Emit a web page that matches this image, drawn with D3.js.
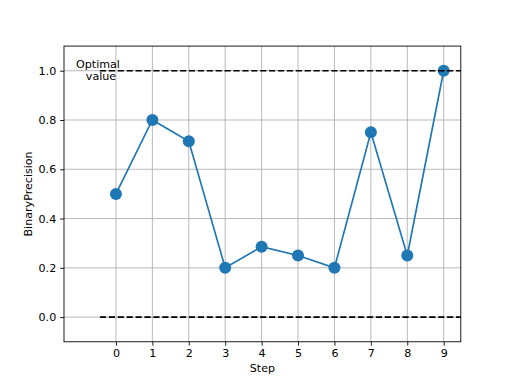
<!DOCTYPE html>
<html><head><meta charset="utf-8">
<script src="https://cdn.jsdelivr.net/npm/d3@7"></script>
<style>body{margin:0;background:#fff}text{font-family:"DejaVu Sans",sans-serif}</style>
</head><body>
<svg id="c" width="512" height="384"></svg>
<script>
const steps = [0,1,2,3,4,5,6,7,8,9];
const precision = [0.5, 0.8, 0.714, 0.2, 0.2857, 0.25, 0.2, 0.75, 0.25, 1.0];
const xTicks = [0,1,2,3,4,5,6,7,8,9];
const yTicks = [0.0,0.2,0.4,0.6,0.8,1.0];
const refLines = [0.0, 1.0];
const refStart = -0.44;

const svg = d3.select("#c");
const L=64, R=460.8, T=46.08, B=341.76;
const x = d3.scaleLinear().domain([-1.427, 9.47]).range([L, R]);
const y = d3.scaleLinear().domain([-0.1, 1.1]).range([B, T]);

// grid
svg.append("g").selectAll("line").data(xTicks).join("line")
  .attr("x1", d=>x(d)).attr("x2", d=>x(d)).attr("y1", T).attr("y2", B)
  .attr("stroke", "#b0b0b0").attr("stroke-width", 0.89);
svg.append("g").selectAll("line").data(yTicks).join("line")
  .attr("x1", L).attr("x2", R).attr("y1", d=>y(d)).attr("y2", d=>y(d))
  .attr("stroke", "#b0b0b0").attr("stroke-width", 0.89);

// axes
const xa = svg.append("g").attr("transform", `translate(0,${B})`)
  .call(d3.axisBottom(x).tickValues(xTicks).tickFormat(d3.format("d")).tickSizeOuter(0).tickSize(3.9).tickPadding(3.9));
const ya = svg.append("g").attr("transform", `translate(${L},0)`)
  .call(d3.axisLeft(y).tickValues(yTicks).tickFormat(d3.format(".1f")).tickSizeOuter(0).tickSize(3.9).tickPadding(3.9));
[xa, ya].forEach(a => {
  a.select(".domain").remove();
  a.selectAll("text").attr("font-size", 11.1).attr("fill", "#000").style("font-family", "DejaVu Sans");
  a.selectAll("line").attr("stroke", "#000").attr("stroke-width", 0.89);
});

// data line
const line = d3.line().x((d,i)=>x(steps[i])).y(d=>y(d));
svg.append("path").datum(precision).attr("d", line).attr("fill", "none")
  .attr("stroke", "#1f77b4").attr("stroke-width", 1.67);
svg.append("g").selectAll("circle").data(precision).join("circle")
  .attr("cx", (d,i)=>x(steps[i])).attr("cy", d=>y(d)).attr("r", 6).attr("fill", "#1f77b4");

// reference lines
svg.append("g").selectAll("line").data(refLines).join("line")
  .attr("x1", x(refStart)).attr("x2", R).attr("y1", d=>y(d)).attr("y2", d=>y(d))
  .attr("stroke", "#000").attr("stroke-width", 1.67).attr("stroke-dasharray", "6.2,2.7");

// frame
svg.append("rect").attr("x", L).attr("y", T).attr("width", R-L).attr("height", B-T)
  .attr("fill", "none").attr("stroke", "#000").attr("stroke-width", 0.89);

// annotation
const ann = svg.append("text").attr("font-size", 11.1).attr("text-anchor", "middle").attr("fill", "#000");
ann.append("tspan").attr("x", 98).attr("y", 68).text("Optimal");
ann.append("tspan").attr("x", 101).attr("y", 80).text("value");

// labels
svg.append("text").attr("x", (L+R)/2).attr("y", 372).attr("text-anchor", "middle").attr("font-size", 11.1).text("Step");
svg.append("text").attr("transform", `translate(32,${(T+B)/2}) rotate(-90)`).attr("text-anchor", "middle")
  .attr("font-size", 11.1).text("BinaryPrecision");
</script>
</body></html>
